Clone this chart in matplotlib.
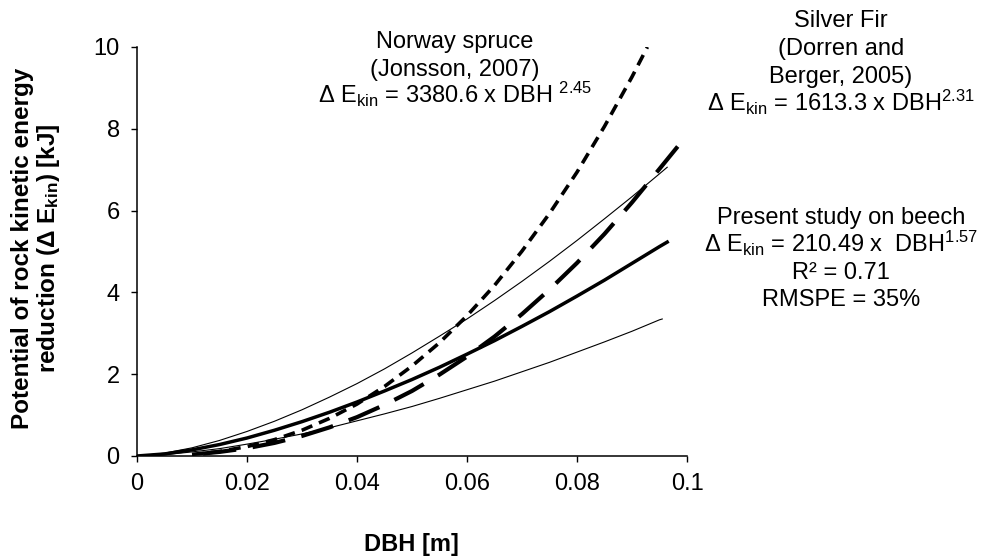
import matplotlib
matplotlib.use("Agg")
import matplotlib.pyplot as plt

plt.rcParams['font.family'] = ['Liberation Sans', 'DejaVu Sans']
plt.rcParams['mathtext.default'] = 'regular'

# values
dbh_beech = [0, 0.005, 0.01, 0.015, 0.02, 0.025, 0.03, 0.035, 0.04, 0.045, 0.05,
             0.055, 0.06, 0.065, 0.07, 0.075, 0.08, 0.085, 0.09, 0.095, 0.0964]
beech = [0, 0.05, 0.15, 0.28, 0.44, 0.63, 0.84, 1.07, 1.32, 1.59, 1.87,
         2.17, 2.49, 2.82, 3.17, 3.53, 3.91, 4.30, 4.71, 5.12, 5.23]
beech_upper = [0, 0.07, 0.20, 0.38, 0.60, 0.85, 1.13, 1.44, 1.77, 2.13, 2.52,
               2.93, 3.35, 3.80, 4.27, 4.76, 5.27, 5.80, 6.34, 6.90, 7.06]

dbh_lower = [0, 0.005, 0.01, 0.015, 0.02, 0.025, 0.03, 0.035, 0.04, 0.045, 0.05,
             0.055, 0.06, 0.065, 0.07, 0.075, 0.08, 0.085, 0.09, 0.095, 0.0955]
beech_lower = [0, 0.03, 0.10, 0.18, 0.29, 0.41, 0.54, 0.69, 0.86, 1.03, 1.21,
               1.41, 1.62, 1.83, 2.06, 2.29, 2.54, 2.79, 3.05, 3.33, 3.35]

dbh_spruce = [0.01, 0.015, 0.02, 0.025, 0.03, 0.035, 0.04, 0.045, 0.05, 0.055,
              0.06, 0.065, 0.07, 0.075, 0.08, 0.085, 0.09, 0.0928]
spruce = [0.04, 0.11, 0.23, 0.40, 0.63, 0.92, 1.27, 1.70, 2.20, 2.77,
          3.43, 4.17, 5.01, 5.93, 6.94, 8.06, 9.27, 10.0]

dbh_fir = [0.012, 0.015, 0.02, 0.025, 0.03, 0.035, 0.04, 0.045, 0.05, 0.055,
           0.06, 0.065, 0.07, 0.075, 0.08, 0.085, 0.09, 0.095, 0.0993]
fir = [0.06, 0.10, 0.19, 0.32, 0.49, 0.70, 0.95, 1.25, 1.59, 1.99,
       2.43, 2.92, 3.47, 4.07, 4.72, 5.43, 6.20, 7.02, 7.73]

xticks = [0, 0.02, 0.04, 0.06, 0.08, 0.1]
xtick_labels = ['0', '0.02', '0.04', '0.06', '0.08', '0.1']
yticks = [0, 2, 4, 6, 8, 10]

W, H = 982, 556
fig = plt.figure(figsize=(W / 100, H / 100), dpi=100)
ax = fig.add_axes([137 / W, 1 - 456 / H, 550 / W, 409 / H])

ax.plot(dbh_beech, beech_upper, color='black', lw=0.8)
ax.plot(dbh_lower, beech_lower, color='black', lw=0.8)
ax.plot(dbh_beech, beech, color='black', lw=2.5)
ax.plot(dbh_spruce, spruce, color='black', lw=2.6, dashes=(3.2, 2.0))
ax.plot(dbh_fir, fir, color='black', lw=3.0, dashes=(8.0, 4.0))

ax.set_xlim(0, 0.1)
ax.set_ylim(0, 10)
ax.set_xticks(xticks)
ax.set_xticklabels(xtick_labels)
ax.set_yticks(yticks)
ax.tick_params(direction='out', length=4.5, width=1.0, labelsize=17, pad=8)
for s in ['top', 'right']:
    ax.spines[s].set_visible(False)
for s in ['left', 'bottom']:
    ax.spines[s].set_linewidth(1.1)

fig.text(411 / W, 1 - 551 / H, 'DBH [m]', fontsize=17, fontweight='bold',
         ha='center', va='baseline')
fig.text(37 / W, 1 - 248 / H,
         'Potential of rock kinetic energy\nreduction (Δ E$_{kin}$) [kJ]',
         fontsize=17.5, fontweight='bold', rotation=90, ha='center', va='center',
         multialignment='center', linespacing=1.05)

def block(x, lines):
    for base, s in lines:
        fig.text(x / W, 1 - base / H, s, fontsize=17, ha='center', va='baseline')

block(455, [(48, 'Norway spruce'),
            (76, '(Jonsson, 2007)'),
            (103, 'Δ E$_{kin}$ = 3380.6 x DBH $^{2.45}$')])
block(841, [(27, 'Silver Fir'),
            (55, '(Dorren and'),
            (83, 'Berger, 2005)'),
            (111, 'Δ E$_{kin}$ = 1613.3 x DBH$^{2.31}$')])
block(841, [(224, 'Present study on beech'),
            (252, 'Δ E$_{kin}$ = 210.49 x  DBH$^{1.57}$'),
            (279, 'R² = 0.71'),
            (306, 'RMSPE = 35%')])

fig.savefig('out.png', dpi=100)
